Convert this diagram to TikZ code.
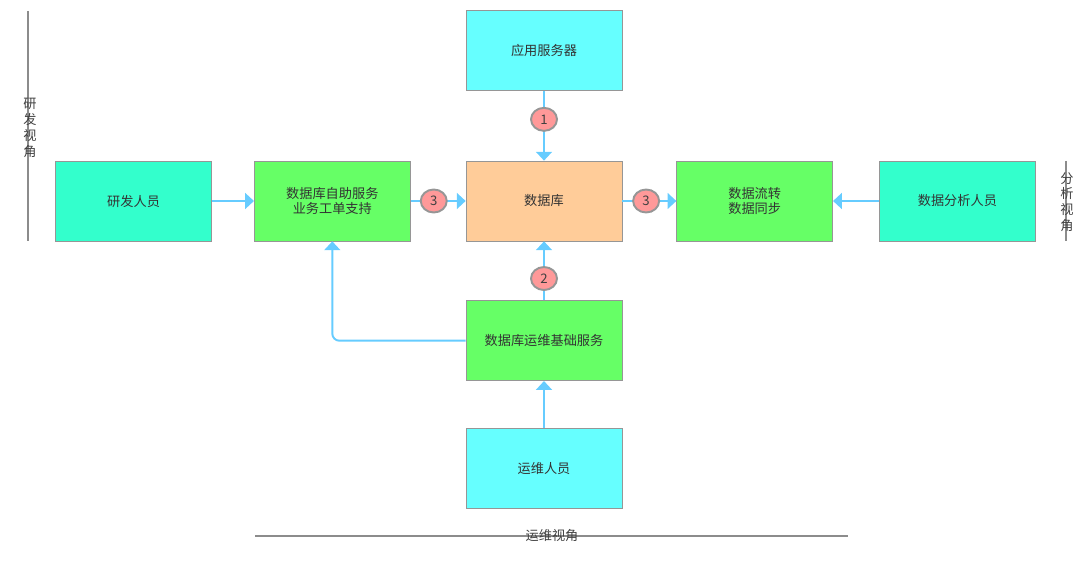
\documentclass[tikz,border=0pt]{standalone}
\usepackage{fontspec}
\setmainfont{Noto Sans CJK SC}
\usepackage{tikz}
\usetikzlibrary{shapes.geometric,arrows.meta,positioning}
\definecolor{teal}{RGB}{51,255,204}
\definecolor{lime}{RGB}{102,255,102}
\definecolor{cyanbox}{RGB}{102,255,255}
\definecolor{peach}{RGB}{255,204,153}
\definecolor{pinkred}{RGB}{255,153,153}
\definecolor{flow}{RGB}{102,204,255}
\definecolor{edge}{RGB}{150,150,150}
\tikzstyle{person} = [rectangle, minimum width=3.12cm, minimum height=1.6cm, draw=edge, fill=teal, align=center]
\tikzstyle{service} = [rectangle, minimum width=3.12cm, minimum height=1.6cm, draw=edge, fill=lime, align=center]
\tikzstyle{server} = [rectangle, minimum width=3.12cm, minimum height=1.6cm, draw=edge, fill=cyanbox, align=center]
\tikzstyle{dbbox} = [rectangle, minimum width=3.12cm, minimum height=1.6cm, draw=edge, fill=peach, align=center]
\tikzstyle{badge} = [ellipse, minimum width=0.52cm, minimum height=0.46cm, inner sep=0pt, draw=edge, fill=pinkred, text=black!75]
\tikzstyle{arrow} = [draw=flow, line width=1.1pt, -{Triangle[length=5pt,width=9pt]}]
\tikzstyle{viewline} = [draw=black!45, line width=0.6pt]
\tikzstyle{viewlabel} = [align=center, text=black!75, inner sep=0pt]
\newcommand{\dbfont}{\fontsize{7.5}{9}\selectfont}

\begin{document}
\begin{tikzpicture}[font=\dbfont, text=black!80]
\useasboundingbox (0,0) rectangle (21.6,-11.38);
\node (db) [dbbox] at (10.88,-4.02) {数据库};
\node (app) [server, above=1.4cm of db] {应用服务器};
\node (selfsvc) [service, left=1.1cm of db] {数据库自助服务\\业务工单支持};
\node (dev) [person, left=0.84cm of selfsvc] {研发人员};
\node (flowsvc) [service, right=1.08cm of db] {数据流转\\数据同步};
\node (analyst) [person, right=0.92cm of flowsvc] {数据分析人员};
\node (opsvc) [service, below=1.18cm of db] {数据库运维基础服务};
\node (ops) [server, below=0.94cm of opsvc] {运维人员};
% arrows
\draw[arrow] (app) -- (db) node [badge, pos=0.41] (b1) {1};
\draw[arrow] (opsvc) -- (db) node [badge, pos=0.37] (b2) {2};
\draw[arrow] (selfsvc) -- (db) node [badge, pos=0.42] (b3l) {3};
\draw[arrow] (db) -- (flowsvc) node [badge, pos=0.44] (b3r) {3};
\draw[arrow] (dev) -- (selfsvc);
\draw[arrow] (analyst) -- (flowsvc);
\draw[arrow] (ops) -- (opsvc);
\draw[arrow, rounded corners=4pt] (opsvc.west) -| (selfsvc.south);
% view labels
\coordinate (devtop) at (0.56,-0.22);
\coordinate (devbot) at (0.56,-4.82);
\draw[viewline] (devtop) -- (devbot);
\node (devview) [viewlabel] at (0.6,-2.56) {研\\发\\视\\角};
\coordinate (antop) at (21.32,-3.22);
\coordinate (anbot) at (21.32,-4.82);
\draw[viewline] (antop) -- (anbot);
\node (anview) [viewlabel] at (21.34,-4.04) {分\\析\\视\\角};
\coordinate (opleft) at (5.1,-10.72);
\coordinate (opright) at (16.96,-10.72);
\draw[viewline] (opleft) -- (opright);
\node (opview) [viewlabel] at (11.04,-10.72) {运维视角};
\end{tikzpicture}
\end{document}
